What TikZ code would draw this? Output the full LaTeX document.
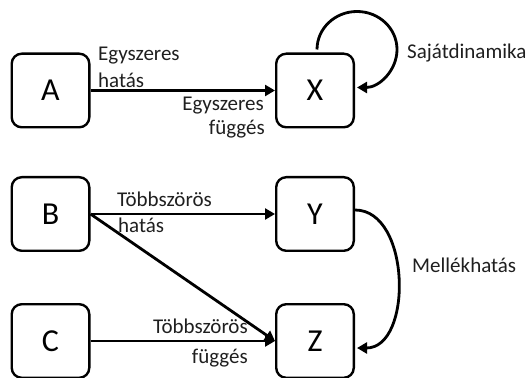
\documentclass[tikz,border=0pt]{standalone}
\usepackage{fontspec}
\setmainfont{Carlito}
\usetikzlibrary{arrows.meta}
\begin{document}
\begin{tikzpicture}[x=1pt,y=1pt,
  box/.style={draw=black, line width=2.4pt, rounded corners=10pt, minimum width=77.6pt, minimum height=73.6pt, inner sep=0pt, font=\fontsize{32}{38}\selectfont},
  arr/.style={line width=2.8pt, -{Triangle[length=10pt,width=11pt]}},
  lbl/.style={inner sep=0pt, font=\fontsize{21}{25}\selectfont, text=black!88}
]
\useasboundingbox (0,0) rectangle (526,377);
\node[box] (A) at (50.5,286.5) {A};
\node[box] (X) at (315,286.5) {X};
\node[box] (B) at (50.5,163) {B};
\node[box] (Y) at (315,163) {Y};
\node[box] (C) at (50.5,36) {C};
\node[box] (Z) at (315,36) {Z};

\draw[arr] (A.east) -- (X.west);
\draw[arr] (B.east) -- (Y.west);
\draw[arr] (B.east) -- (Z.west);
\draw[arr] (C.east) -- (Z.west);
\draw[arr] ([xshift=2pt,yshift=3pt]X.north) arc[start angle=180, end angle=-90, x radius=40pt, y radius=38pt];
\draw[arr] ([yshift=4pt]Y.east) .. controls +(56,0) and +(56,0) .. ([xshift=2pt,yshift=-7pt]Z.east);

\node[lbl, anchor=base west] (l1) at (98,316) {Egyszeres};
\node[lbl, anchor=base west] (l2) at (98,289) {hatás};
\node[lbl, anchor=base east] (l3) at (264,266) {Egyszeres};
\node[lbl, anchor=base east] (l4) at (265,242) {függés};
\node[lbl, anchor=base west] (l5) at (407,318) {Sajátdinamika};
\node[lbl, anchor=base west] (l6) at (117,170) {Többszörös};
\node[lbl, anchor=base west] (l7) at (118,144) {hatás};
\node[lbl, anchor=base east] (l8) at (248,44) {Többszörös};
\node[lbl, anchor=base east] (l9) at (248,14) {függés};
\node[lbl, anchor=base west] (l10) at (412,104) {Mellékhatás};
\end{tikzpicture}
\end{document}
